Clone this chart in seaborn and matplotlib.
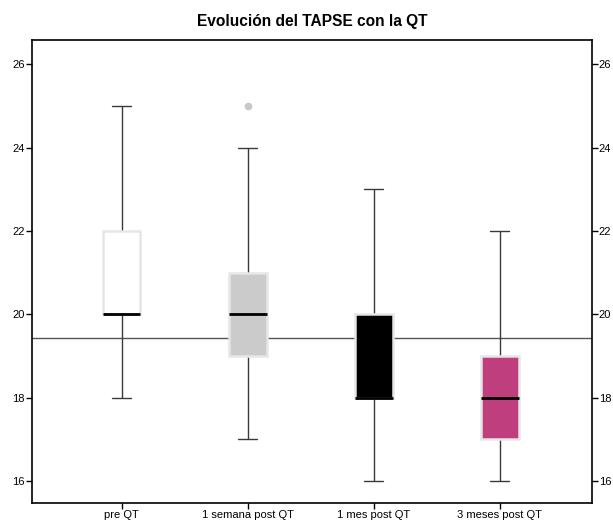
import numpy as np
import pandas as pd
import matplotlib
matplotlib.use("Agg")
import matplotlib.pyplot as plt
import seaborn as sns

categories = ["pre QT", "1 semana post QT", "1 mes post QT", "3 meses post QT"]
pre_qt = [18, 19, 20, 20, 20, 21, 22, 24, 25]
semana_1 = [17, 18, 19, 19, 19, 20, 20, 20, 21, 21, 22, 24, 25]
mes_1 = [16, 17, 18, 18, 18, 19, 20, 21, 23]
meses_3 = [16, 16, 17, 18, 18, 18, 19, 20, 22]
reference_value = 19.43
box_colors = ["#ffffff", "#cbcbcb", "#000000", "#be3e7e"]
y_ticks = [16, 18, 20, 22, 24, 26]
title = "Evolución del TAPSE con la QT"

groups = [pre_qt, semana_1, mes_1, meses_3]
df = pd.DataFrame({
    "grupo": np.concatenate([[c] * len(g) for c, g in zip(categories, groups)]),
    "TAPSE": np.concatenate(groups),
})

sns.set_style("white")
plt.rcParams["font.family"] = ["Liberation Sans", "DejaVu Sans"]
plt.rcParams["text.color"] = "#000000"
plt.rcParams["xtick.color"] = "#000000"
plt.rcParams["ytick.color"] = "#000000"
plt.rcParams["axes.labelcolor"] = "#000000"

fig = plt.figure(figsize=(6.13, 5.25), dpi=100)
ax = fig.add_axes([0.0522, 0.0419, 0.9135, 0.8819])

ax.axhline(reference_value, color="#555555", lw=1.0, zorder=0.5)

sns.boxplot(data=df, x="grupo", y="TAPSE", order=categories, hue="grupo",
            hue_order=categories, palette=box_colors, saturation=1,
            legend=False, width=0.3, whis=1.5, ax=ax,
            boxprops=dict(edgecolor="#e6e6e6", linewidth=1.8, zorder=2),
            whiskerprops=dict(color="#3a3a3a", linewidth=1.0, zorder=1),
            capprops=dict(color="#3a3a3a", linewidth=1.0, zorder=1),
            medianprops=dict(color="#000000", linewidth=2.0, zorder=3),
            flierprops=dict(marker="o", markersize=4.5, markerfacecolor="#c8c8c8",
                            markeredgecolor="#c8c8c8"))

ax.set_xlim(-0.71, 3.73)
ax.set_ylim(15.47, 26.58)
ax.set_yticks(y_ticks)
ax.set_yticklabels([str(t) for t in y_ticks])
ax.set_xlabel("")
ax.set_ylabel("")
ax.tick_params(axis="both", which="both", direction="out", length=4, width=1,
               color="#000000", labelcolor="#000000", labelsize=8, pad=1)
ax.tick_params(axis="y", left=True, right=True, labelleft=True, labelright=True)
ax.tick_params(axis="x", bottom=True)
for s in ax.spines.values():
    s.set_visible(True)
    s.set_color("#000000")
    s.set_linewidth(1.2)
ax.set_title(title, fontsize=11.2, fontweight="bold", pad=10, color="#000000")

fig.savefig("out.png", dpi=100)
